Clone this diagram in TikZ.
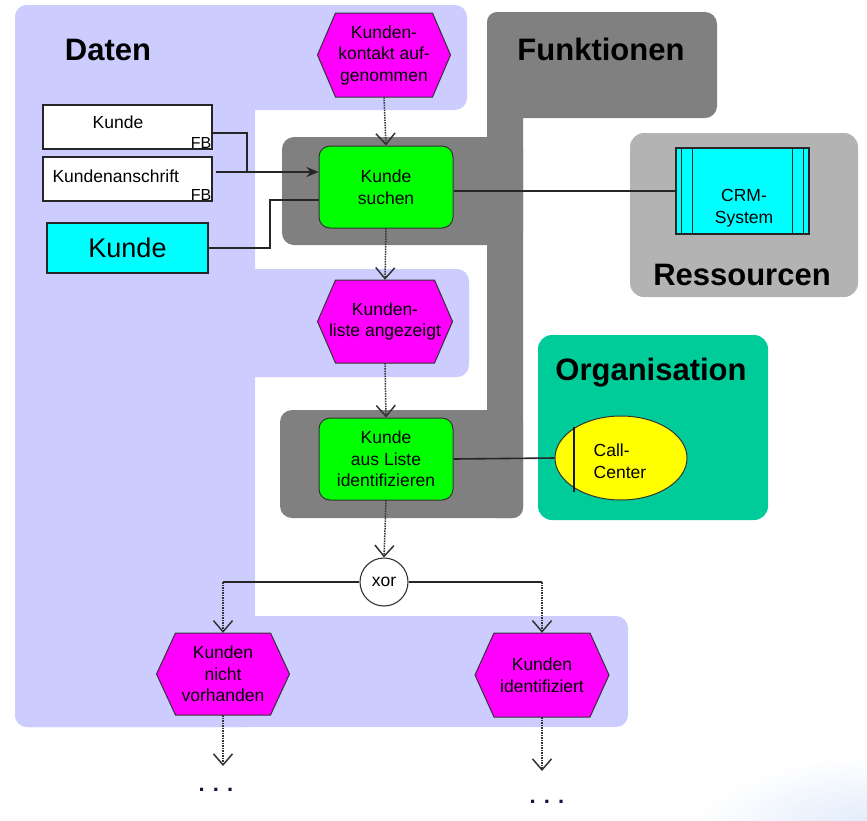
\documentclass[tikz,border=0pt]{standalone}
\usepackage{fontspec}
\setmainfont{Liberation Sans}
\usetikzlibrary{arrows.meta,calc,shapes.geometric}

\definecolor{datcol}{HTML}{CCCCFF}
\definecolor{funcol}{HTML}{808080}
\definecolor{rescol}{HTML}{B3B3B3}
\definecolor{orgcol}{HTML}{00CC99}
\definecolor{evcol}{HTML}{FF00FF}
\definecolor{fncol}{HTML}{00FF00}
\definecolor{sycol}{HTML}{00FFFF}
\definecolor{occol}{HTML}{FFFF00}
\definecolor{hazecol}{HTML}{DCE8FA}

% EPC event: hexagon outline plus a named text node of the same size
% #1 name, #2 cx, #3 cy, #4 width, #5 height, #6 side inset, #7 text
\newcommand{\epkEvent}[7]{%
  \draw[evshape] ({#2-#4/2},#3) -- ({#2-#4/2+#6},{#3-#5/2})
    -- ({#2+#4/2-#6},{#3-#5/2}) -- ({#2+#4/2},#3)
    -- ({#2+#4/2-#6},{#3+#5/2}) -- ({#2-#4/2+#6},{#3+#5/2}) -- cycle;
  \node[evtext, minimum width=#4pt, minimum height=#5pt] (#1) at (#2,#3) {#7};
}

\begin{document}
\begin{tikzpicture}[x=1pt,y=-1pt,
  title/.style={font=\fontsize{31}{33}\selectfont\bfseries, text=black, anchor=base, inner sep=0pt},
  small/.style={font=\fontsize{17.5}{21.5}\selectfont, align=center, text=black},
  evshape/.style={fill=evcol, draw=black!80, line width=1pt, line join=miter},
  evtext/.style={small, draw=none, inner sep=0pt},
  fnbox/.style={small, rectangle, rounded corners=11pt, fill=fncol, draw=black!80,
    line width=1pt, minimum width=134pt, minimum height=82pt, inner sep=0pt},
  fbbox/.style={rectangle, fill=white, draw=black!85, line width=1.1pt,
    minimum width=169pt, minimum height=44pt, inner sep=0pt},
  fbtag/.style={font=\fontsize{16}{16}\selectfont, anchor=south east, inner sep=1pt, text=black},
  link/.style={draw=black!85, line width=1.6pt},
  flow/.style={draw=black!80, line width=1.5pt, densely dotted,
    -{Straight Barb[length=11pt,width=19pt,line width=1.5pt]}},
  dataflow/.style={link, -{Stealth[length=12pt,width=10pt]}},
  dots/.style={font=\fontsize{22}{22}\selectfont\bfseries, text={rgb,255:red,15;green,20;blue,60}}
]
\useasboundingbox (0,0) rectangle (867,820);

% soft glow in the lower right corner
\begin{scope}
  \clip (0,0) rectangle (867,820);
  \shade[inner color=hazecol, outer color=white] (880,835) ellipse [x radius=190, y radius=80];
\end{scope}

% ---- areas ----
% Daten
\fill[datcol, rounded corners=12pt] (15,5) rectangle (467,110);
\fill[datcol, rounded corners=12pt] (15,5) rectangle (255,727);
\fill[datcol, rounded corners=12pt] (235,269) rectangle (469,377);
\fill[datcol, rounded corners=12pt] (15,616) rectangle (628,727);
% Funktionen
\fill[funcol, rounded corners=12pt] (487,12) rectangle (717,118);
\fill[funcol, rounded corners=10pt] (487,12) rectangle (523,518);
\fill[funcol, rounded corners=12pt] (282,137) rectangle (523,245);
\fill[funcol, rounded corners=12pt] (280,410) rectangle (523,518);
% Ressourcen
\fill[rescol, rounded corners=14pt] (630,133) rectangle (858,297);
% Organisation
\fill[orgcol, rounded corners=14pt] (538,335) rectangle (768,520);

% ---- area titles ----
\node[title] (tDaten) at (108,60) {Daten};
\node[title] (tFunk) at (601,60) {Funktionen};
\node[title] (tRes) at (742,285) {Ressourcen};
\node[title] (tOrg) at (651,380) {Organisation};

% ---- events ----
\epkEvent{e1}{384}{55}{133}{84}{18}{Kunden-\\kontakt auf-\\genommen}
\epkEvent{e2}{385}{321.5}{135}{83}{18}{Kunden-\\liste angezeigt}
\epkEvent{e3}{223}{674}{133}{82}{19}{Kunden\\nicht\\vorhanden}
\epkEvent{e4}{542}{675}{134}{84}{19}{Kunden\\identifiziert}

% ---- functions ----
\node[fnbox] (suchen) at (386,187) {Kunde\\suchen};
\node[fnbox] (ident) at (386,459) {Kunde\\aus Liste\\identifizieren};

% ---- xor connector ----
\node[circle, draw=black!80, fill=white, line width=1.1pt, minimum size=48pt,
  inner sep=0pt, small] (xor) at (384,582) {xor};

% ---- data objects ----
\node[fbbox] (kfb) at (127.5,127) {};
\node[small] (kfbT) at (118,122) {Kunde};
\node[fbtag] (kfbTag) at (kfb.south east) {FB};

\node[fbbox] (anschr) at (127.5,179) {};
\node[small, anchor=west] (anschrT) at (49,176) {Kundenanschrift};
\node[fbtag] (anschrTag) at (anschr.south east) {FB};

\node[rectangle, fill=sycol, draw=black!85, line width=1.1pt, minimum width=161pt,
  minimum height=50pt, inner sep=0pt, font=\fontsize{27}{27}\selectfont] (kcy) at (127.5,248) {Kunde};

% ---- application system ----
\node[rectangle, fill=sycol, draw=black!85, line width=1.1pt, minimum width=133pt,
  minimum height=86pt, inner sep=0pt] (crm) at (742.5,191) {};
\foreach \dx in {6,17} {
  \draw[black!85, line width=1pt] ($(crm.north west)+(\dx,0)$) -- ($(crm.south west)+(\dx,0)$);
  \draw[black!85, line width=1pt] ($(crm.north east)+(-\dx,0)$) -- ($(crm.south east)+(-\dx,0)$);
}
\node[small] (crmT) at (744,208) {CRM-\\System};

% ---- organisational unit ----
\node[ellipse, fill=occol, draw=black!80, line width=1pt, minimum width=132pt,
  minimum height=84pt, inner sep=0pt] (cc) at (621,458) {};
\draw[black!90, line width=1.3pt] ($(cc.center)+(-47,-31)$) -- ($(cc.center)+(-47,34)$);
\node[small, align=left] (ccT) at (620,461) {Call-\\Center};

% ---- connectors ----
\coordinate (j1) at (247,172);
\coordinate (j2) at (270,200);
\draw[link] ([yshift=-6pt]kfb.east) -| (j1);
\draw[dataflow] ([xshift=3pt,yshift=7pt]anschr.east) -- ([yshift=7pt]anschr.east -| suchen.west);
\draw[link] (kcy.east) -| (j2) -- (j2 -| suchen.west);
\draw[link] (crm.west -| suchen.east) -- (crm.west);
\draw[link] (ident.east) -- (cc.west);

\draw[flow] (e1.south) -- (suchen.north);
\draw[flow] (suchen.south) -- (e2.north);
\draw[flow] (e2.south) -- (ident.north);
\draw[flow] (ident.south) -- (xor.north);

\draw[link] (xor.west) -- (xor.west -| e3.north);
\draw[link] (xor.east) -- (xor.east -| e4.north);
\draw[flow] (xor.west -| e3.north) -- (e3.north);
\draw[flow] (xor.east -| e4.north) -- (e4.north);

\coordinate (end1) at (223,766);
\coordinate (end2) at (542,771);
\draw[flow] (e3.south) -- (end1);
\draw[flow] (e4.south) -- (end2);
\node[dots] (more1) at (216,790) {. . .};
\node[dots] (more2) at (547,802) {. . .};

\end{tikzpicture}
\end{document}
